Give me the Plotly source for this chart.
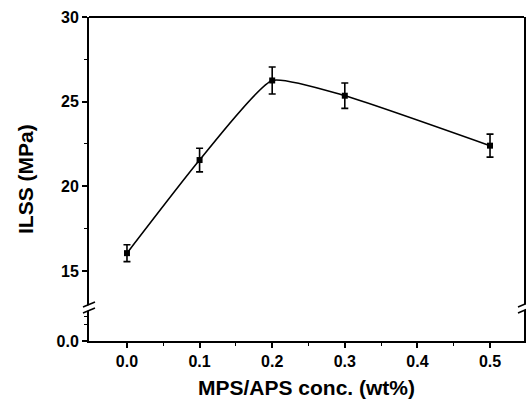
import plotly.graph_objects as go

conc = [0.0, 0.1, 0.2, 0.3, 0.5]
ilss = [16.05, 21.55, 26.25, 25.35, 22.4]
ilss_err = [0.5, 0.7, 0.8, 0.75, 0.68]

x_ticks = [0.0, 0.1, 0.2, 0.3, 0.4, 0.5]
x_ticktext = ["0.0", "0.1", "0.2", "0.3", "0.4", "0.5"]
y_ticks = [15, 20, 25, 30]
y_low_ticks = [0]
y_low_ticktext = ["0.0"]

W, H = 526, 404
ml, mr, mt, mb = 89, 2, 17, 63
plot_h = H - mt - mb
brk = 33 / plot_h  # fraction of height for lower segment

fig = go.Figure()
fig.add_trace(go.Scatter(
    x=conc, y=ilss, mode="lines+markers",
    line=dict(color="black", width=1.6, shape="spline", smoothing=0.5),
    marker=dict(symbol="square", size=6, color="black"),
    error_y=dict(type="data", array=ilss_err, visible=True, color="black", thickness=1.6, width=3.5),
    xaxis="x", yaxis="y", showlegend=False, hoverinfo="x+y",
))
# empty trace so that the lower (broken) axis segment is drawn
fig.add_trace(go.Scatter(x=[], y=[], xaxis="x", yaxis="y2", showlegend=False, hoverinfo="skip"))

font_tick = dict(family="Liberation Sans, Arial, sans-serif", size=16, color="black", weight="bold")
font_title = dict(family="Liberation Sans, Arial, sans-serif", size=21, color="black", weight="bold")

fig.update_layout(
    width=W, height=H,
    margin=dict(l=ml, r=mr, t=mt, b=mb, autoexpand=False),
    paper_bgcolor="white", plot_bgcolor="white",
    xaxis=dict(
        domain=[0, 1], anchor="y2", range=[-0.0523, 0.5468], automargin=False,
        tickvals=x_ticks, ticktext=x_ticktext, ticks="outside", ticklen=5, tickwidth=1.5,
        tickcolor="black", showline=True, linecolor="black", linewidth=2,
        showgrid=False, zeroline=False, tickfont=font_tick,
        minor=dict(tickvals=[0.05, 0.15, 0.25, 0.35, 0.45], ticks="outside", ticklen=3, tickcolor="black", tickwidth=1),
        title=dict(text="MPS/APS conc. (wt%)", font=font_title, standoff=11),
    ),
    yaxis=dict(
        domain=[brk, 1], anchor="x", range=[12.81, 30], automargin=False,
        tickvals=y_ticks, ticks="outside", ticklen=5, tickwidth=1.5, tickcolor="black",
        showline=True, linecolor="black", linewidth=2, mirror=True,
        showgrid=False, zeroline=False, tickfont=font_tick,
        minor=dict(tickvals=[17.5, 22.5, 27.5], ticks="outside", ticklen=3, tickcolor="black", tickwidth=1),
    ),
    yaxis2=dict(
        domain=[0, brk], anchor="x", range=[0, 2.05], automargin=False,
        tickvals=y_low_ticks, ticktext=y_low_ticktext, ticks="outside", ticklen=5, tickwidth=1.5,
        tickcolor="black", showline=True, linecolor="black", linewidth=2, mirror=True,
        showgrid=False, zeroline=False, tickfont=font_tick,
        minor=dict(tickvals=[1.0, 1.5], ticks="outside", ticklen=3, tickcolor="black", tickwidth=1),
    ),
)

# y-axis title spanning the whole (broken) axis
fig.add_annotation(text="ILSS (MPa)", textangle=-90, font=font_title, showarrow=False,
                   xref="paper", yref="paper", x=0, y=0.5, xanchor="center", yanchor="middle",
                   xshift=-64)

# top frame line
fig.add_shape(type="line", xref="paper", yref="paper", x0=0, x1=1, y0=1, y1=1,
              line=dict(color="black", width=2), layer="above")

# axis break marks on left and right
for xa in (0, 1):
    fig.add_shape(type="path", xref="paper", yref="paper",
                  xsizemode="pixel", ysizemode="pixel", xanchor=xa, yanchor=brk,
                  path="M -6,-5 L 6,1 L 6,6 L -6,0 Z",
                  fillcolor="white", line=dict(width=0), layer="above")
    for dy in (-5, 1):
        fig.add_shape(type="line", xref="paper", yref="paper",
                      xsizemode="pixel", ysizemode="pixel", xanchor=xa, yanchor=brk,
                      x0=-6, x1=6, y0=dy, y1=dy + 5,
                      line=dict(color="black", width=1.5), layer="above")

fig.write_html(
    "out.html",
    config={"displayModeBar": False},
    post_script="document.body.style.margin='0';document.body.style.overflow='hidden';",
)
